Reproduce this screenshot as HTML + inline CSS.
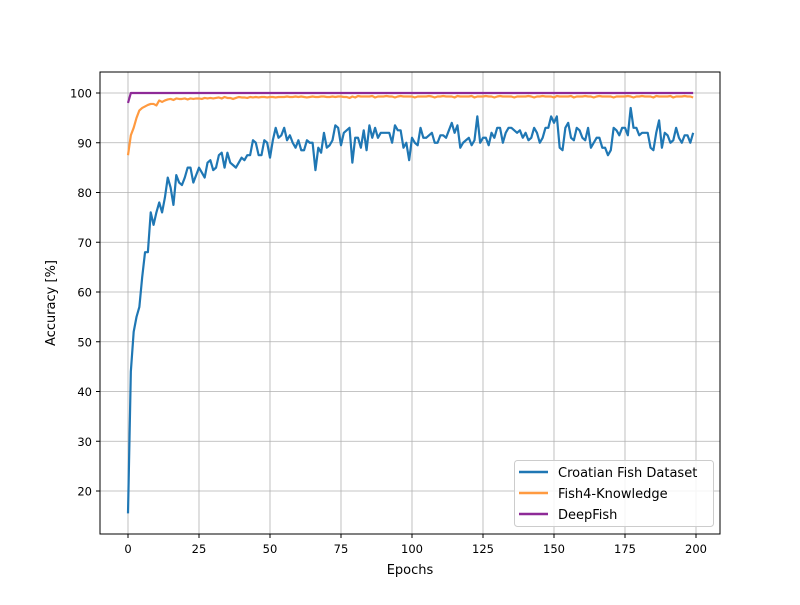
<!DOCTYPE html>
<html><head><meta charset="utf-8"><style>
body{margin:0;background:#fff}
svg{font-family:"DejaVu Sans","Liberation Sans",sans-serif}
</style></head><body>
<svg id="chart" width="800" height="600" viewBox="0 0 800 600">
<rect width="800" height="600" fill="#fff"/>
<g id="grid"></g><g id="ticks"></g><g id="series"></g>
<rect x="100" y="72" width="620" height="462" fill="none" stroke="#000" stroke-width="1"/>
<text x="410" y="574" font-size="13" text-anchor="middle">Epochs</text>
<text transform="translate(55,303) rotate(-90)" font-size="13" text-anchor="middle">Accuracy [%]</text>
<g>
<rect x="514.5" y="460.5" width="199" height="66" rx="3" fill="#fff" fill-opacity="0.85" stroke="#ccc"/>
<line x1="519" y1="472" x2="548" y2="472" stroke="#1f77b4" stroke-width="2.5"/>
<text x="558" y="477" font-size="13">Croatian Fish Dataset</text>
<line x1="519" y1="493" x2="548" y2="493" stroke="#ff9a40" stroke-width="2.5"/>
<text x="558" y="498" font-size="13">Fish4-Knowledge</text>
<line x1="519" y1="514" x2="548" y2="514" stroke="#8e2a97" stroke-width="2.5"/>
<text x="558" y="519" font-size="13">DeepFish</text>
</g>
</svg>
<script>
const xTicks=[0,25,50,75,100,125,150,175,200];
const yTicks=[20,30,40,50,60,70,80,90,100];
const croatian=[15.5,44,52,55,57,63,68,68,76,73.5,76,78,76,79,83,81,77.5,83.5,82,81.5,83,85,85,82,83.5,85,84,83,86,86.5,84.5,85,87.5,88,85,88,86,85.5,85,86,87,86.5,87.5,87.5,90.5,90,87.5,87.5,90.5,90,87,90.5,93,91,91.5,93,90.5,91.5,90,89,90.5,88.5,88.5,90.5,90,90,84.5,89,88,92,89,89.5,90.5,93.5,93,89.5,92,92.5,93,86,91,91,89,92.5,88.5,93.5,91,93,91,92,92,92,92,90,93.5,92.5,92.5,89,90,86.5,91,90,89.5,93,91,91,91.5,92,90,90,91.5,91.5,91,92.5,94,92,93.5,89,90,90.5,91,89.5,90.5,95.3,90,91,91,89.5,92,91,93,93,90,92,93,93,92.5,92,92.5,91,92,90.5,91,93,92,90,91,93,93,95.3,94,95.3,89,88.5,93,94,91,90.5,93,92.5,91,90.5,93,89,90,91,91,89,89,87.5,88.5,93,92.5,91.5,93,93,91.5,97,93,93,91.5,92,92,92,89,88.5,92,94.5,89,92,91.5,90,90.5,93,91,90,91.5,91.5,90,92,92];
croatian.length=200;
const fish4=[87.5,91.5,93,95,96.5,97,97.3,97.6,97.8,97.8,97.5,98.5,98.2,98.5,98.7,98.8,98.6,98.9,98.8,98.8,98.9,98.7,98.9,98.8,98.9,98.9,98.8,99,98.9,99,98.9,99,99.1,98.9,99.2,99,99,98.8,99,99.2,99.1,99.1,99,99.2,99.1,99.2,99.1,99.2,99.2,99.1,99.2,99.2,99.1,99.2,99.2,99.2,99.3,99.2,99.2,99.3,99.2,99.3,99.2,99.1,99.2,99.3,99.2,99.2,99.3,99.3,99.2,99.2,99.3,99.2,99.3,99.3,99.2,99.2,99,99.3];
while(fish4.length<200) fish4.push(fish4.length%7===3?99.1:(fish4.length%5===1?99.4:99.3));
const deepfish=[98];
while(deepfish.length<200) deepfish.push(100);
const X0=128,XS=(696-128)/200,Y100=93,YS=(491-93)/80;
const xs=v=>X0+v*XS, ys=v=>Y100-(v-100)*YS;
const NS="http://www.w3.org/2000/svg";
const grid=document.getElementById('grid'),ticks=document.getElementById('ticks'),ser=document.getElementById('series');
function mk(tag,at,p){const e=document.createElementNS(NS,tag);for(const k in at)e.setAttribute(k,at[k]);p.appendChild(e);return e;}
xTicks.forEach(t=>{const x=xs(t);
 const g=mk('line',{x1:x,x2:x,y1:72,y2:534,stroke:'#b0b0b0','stroke-width':0.8},grid);
 
 
 mk('line',{x1:x,x2:x,y1:534,y2:538,stroke:'#000'},ticks);
 const tx=mk('text',{x:x,y:553,'font-size':11.5,'text-anchor':'middle'},ticks);tx.textContent=t;
 
 });
yTicks.forEach(t=>{const y=ys(t);
 const g=mk('line',{x1:100,x2:720,y1:y,y2:y,stroke:'#b0b0b0','stroke-width':0.8},grid);
 
 
 mk('line',{x1:96,x2:100,y1:y,y2:y,stroke:'#000'},ticks);
 const tx=mk('text',{x:92,y:y+4.5,'font-size':11.5,'text-anchor':'end'},ticks);tx.textContent=t;
 
 });
function line(d,c,name){const p=mk('polyline',{points:d.map((v,i)=>xs(i)+','+ys(v)).join(' '),fill:'none',stroke:c,'stroke-width':2.2,'stroke-linejoin':'round'},ser);
 
 }
line(croatian,'#1f77b4','croatian-line');
line(fish4,'#ff9a40','fish4-line');
line(deepfish,'#8e2a97','deepfish-line');
</script>
</body></html>
